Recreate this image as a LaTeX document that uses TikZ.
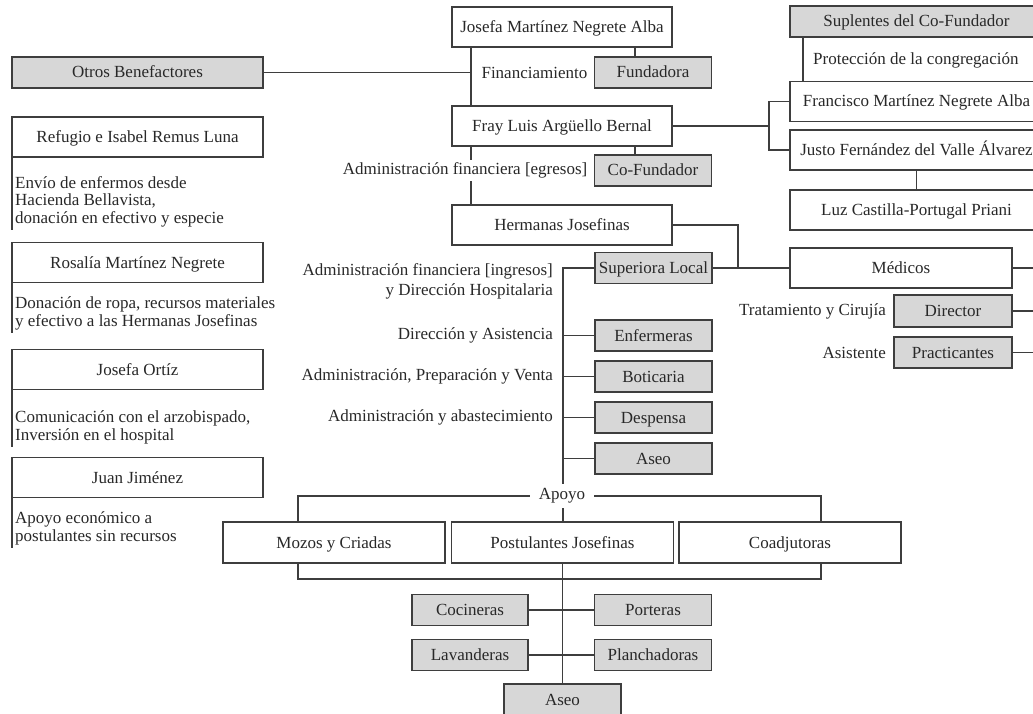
\documentclass[tikz,border=0pt]{standalone}
\usepackage{fontspec}
\setmainfont{Liberation Serif}
\usetikzlibrary{positioning,backgrounds}
\definecolor{boxgray}{RGB}{215,215,215}
\definecolor{linegray}{RGB}{62,62,62}
\definecolor{txtgray}{RGB}{40,40,40}

\begin{document}
\begin{tikzpicture}[x=1pt,y=-1pt,node distance=10pt,
    font=\fontsize{17}{17.5}\selectfont,
    box/.style={draw=linegray,line width=1.5pt,fill=white,text=txtgray,
      minimum width=220pt,minimum height=40pt,inner sep=0pt,outer sep=0pt,
      text height=15pt,text depth=4pt},
    grey/.style={box,fill=boxgray,minimum width=117pt,minimum height=31pt},
    wide/.style={minimum width=251pt},
    lbl/.style={inner sep=0pt,text=txtgray},
    desc/.style={align=left,inner sep=3pt,anchor=north west,text=txtgray},
    conn/.style={draw=linegray,line width=1.5pt}]
  \useasboundingbox (0,0) rectangle (1033,714);

  \node[box] (josefa) at (562,27) {Josefa Martínez Negrete Alba};
  \node[box] (fray) [below=59pt of josefa] {Fray Luis Argüello Bernal};
  \node[box] (hermanas) [below=59pt of fray] {Hermanas Josefinas};
  \node[grey] (fundadora) at (653,72.5) {Fundadora};
  \node[grey] (cofundador) at (653,170.5) {Co-Fundador};
  \node[lbl] (financiamiento) [left=7pt of fundadora] {Financiamiento};
  \node[lbl,fill=white,inner sep=3pt] (egresos) [left=4pt of cofundador] {Administración financiera [egresos]};

  \node[grey,wide] (otros) at (137.5,72.5) {Otros Benefactores};
  \node[box,wide] (refugio) at (137.5,137) {Refugio e Isabel Remus Luna};
  \node[box,wide] (rosalia) at (137.5,262.5) {Rosalía Martínez Negrete};
  \node[box,wide] (ortiz) at (137.5,369.5) {Josefa Ortíz};
  \node[box,wide] (juan) at (137.5,477.5) {Juan Jiménez};
  \node[desc] (refugiotxt) at ([yshift=-16pt]refugio.south west) {Envío de enfermos desde\\Hacienda Bellavista,\\donación en efectivo y especie};
  \node[desc] (rosaliatxt) at ([yshift=-11pt]rosalia.south west) {Donación de ropa, recursos materiales\\y efectivo a las Hermanas Josefinas};
  \node[desc] (ortiztxt) at ([yshift=-18pt]ortiz.south west) {Comunicación con el arzobispado,\\Inversión en el hospital};
  \node[desc] (juantxt) at ([yshift=-11pt]juan.south west) {Apoyo económico a\\postulantes sin recursos};

  \node[grey,minimum width=253pt] (suplentes) at (916.5,21.5) {Suplentes del Co-Fundador};
  \node[lbl,anchor=west] (proteccion) at ([xshift=23pt,yshift=-23pt]suplentes.south west) {Protección de la congregación};
  \node[box,minimum width=253pt] (francisco) at (916.5,101.5) {Francisco Martínez Negrete Alba};
  \node[box,minimum width=253pt] (justo) [below=8.5pt of francisco] {Justo Fernández del Valle Álvarez};
  \node[box,minimum width=253pt] (luz) [below=20pt of justo] {Luz Castilla-Portugal Priani};
  \node[box,minimum width=222pt] (medicos) at (901,268) {Médicos};
  \node[grey,minimum width=118pt,minimum height=32pt] (director) at (953,311) {Director};
  \node[grey,minimum width=118pt] (practicantes) [below=10pt of director] {Practicantes};
  \node[lbl] (tratamiento) [left=8pt of director] {Tratamiento y Cirujía};
  \node[lbl] (asistente) [left=8pt of practicantes] {Asistente};

  \node[grey] (superiora) at (653.5,268) {Superiora Local};
  \node[grey] (enfermeras) at (653.5,335.5) {Enfermeras};
  \node[grey] (boticaria) [below=of enfermeras] {Boticaria};
  \node[grey] (despensa) [below=of boticaria] {Despensa};
  \node[grey] (aseoA) [below=of despensa] {Aseo};
  \coordinate (spine) at ([xshift=-32pt]superiora.west);
  \node[lbl,align=right,anchor=east,font=\fontsize{17}{20}\selectfont] (ingresos) at ([xshift=-10pt,yshift=-13pt]spine) {Administración financiera [ingresos]\\y Dirección Hospitalaria};
  \node[lbl] (asistencia) [left=42pt of enfermeras] {Dirección y Asistencia};
  \node[lbl] (venta) [left=42pt of boticaria] {Administración, Preparación y Venta};
  \node[lbl] (abasto) [left=42pt of despensa] {Administración y abastecimiento};

  \node[box,minimum width=222pt,minimum height=41pt] (postulantes) at (562.5,542.5) {Postulantes Josefinas};
  \node[box,minimum width=222pt,minimum height=41pt] (mozos) [left=6.5pt of postulantes] {Mozos y Criadas};
  \node[box,minimum width=222pt,minimum height=41pt] (coadjutoras) [right=5.5pt of postulantes] {Coadjutoras};
  \node[lbl,fill=white,inner xsep=9pt,inner ysep=5pt] (apoyo) at (562,496) {Apoyo};
  \node[grey,minimum width=116pt] (cocineras) at (470,610) {Cocineras};
  \node[grey] (porteras) at (653,610) {Porteras};
  \node[grey,minimum width=116pt] (lavanderas) [below=14pt of cocineras] {Lavanderas};
  \node[grey] (planchadoras) [below=14pt of porteras] {Planchadoras};
  \node[grey] (aseoB) at (562.5,699.5) {Aseo};

  \coordinate (rim) at (1040,0);
  \coordinate (fork) at ([xshift=97pt]fray.east);
  \coordinate (hjoin) at ([xshift=26pt]superiora.east);
  \coordinate (trunk) at ([xshift=19pt]josefa.south west);

  \begin{scope}[on background layer]
    \draw[conn] (trunk) -- (trunk |- hermanas.north);
    \draw[conn] (otros) -- (otros -| trunk);
    \draw[conn] ([xshift=-18pt]fundadora.north) -- ([xshift=-18pt]fundadora.north |- josefa.south);
    \draw[conn] ([xshift=-18pt]cofundador.north) -- ([xshift=-18pt]cofundador.north |- fray.south);
    \draw[conn] (fray.east) -- (fork);
    \draw[conn] (francisco.west) -| (fork) |- (justo.west);
    \draw[conn] ([xshift=13pt]suplentes.south west) -- ([xshift=13pt]francisco.north west);
    \draw[conn] (justo) -- (luz);
    \draw[conn] (hermanas.east) -| (hjoin);
    \draw[conn] (superiora) -- (medicos);
    \foreach \n in {medicos,director,practicantes}
      \draw[conn] (\n.east) -- (\n.east -| rim);
    \draw[conn] (superiora.west) -- (spine) -- (spine |- postulantes.north);
    \foreach \n in {enfermeras,boticaria,despensa,aseoA}
      \draw[conn] (\n.west) -- (\n.west -| spine);
    \foreach \n in {refugio,rosalia,ortiz,juan}
      \draw[conn] (\n.south west) -- (\n.south west |- \n txt.south);
    \draw[conn] ([xshift=-36pt]mozos.north) |- (apoyo) -| ([xshift=31pt]coadjutoras.north);
    \draw[conn] ([xshift=-36pt]mozos.south) -- ++(0,16) -| ([xshift=31pt]coadjutoras.south);
    \draw[conn] (postulantes) -- (aseoB);
    \draw[conn] (cocineras) -- (porteras);
    \draw[conn] (lavanderas) -- (planchadoras);
  \end{scope}
\end{tikzpicture}
\end{document}
